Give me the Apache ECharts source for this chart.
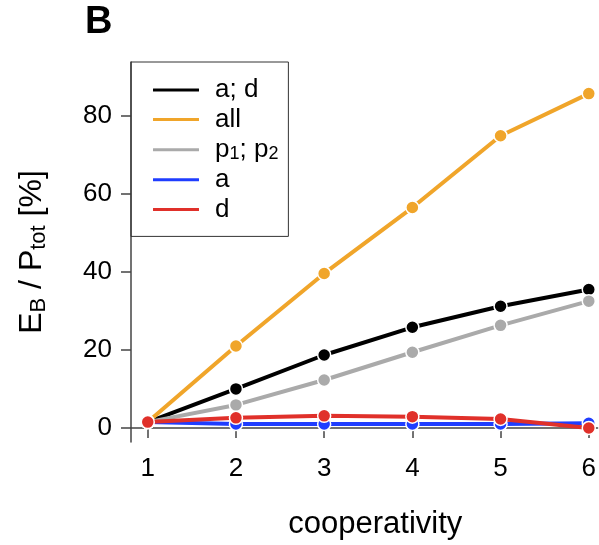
<!DOCTYPE html>
<html>
<head>
<meta charset="utf-8">
<script src="https://cdn.jsdelivr.net/npm/echarts@6/dist/echarts.min.js"></script>
<style>
  html, body { margin: 0; padding: 0; background: #fff; }
  #chart { width: 599px; height: 545px; }
</style>
</head>
<body>
<div id="chart"></div>
<script>
// cooperativity on x, E_B / P_tot in percent on y
const cooperativity = [1, 2, 3, 4, 5, 6];
const yTicks = [0, 20, 40, 60, 80];

const seriesNames = ["a; d", "all", "p1; p2", "a", "d"];
const seriesColors = ["#000000", "#f0a52a", "#aaaaaa", "#1f3dff", "#e0302a"];

const valsAD  = [1.5, 10.0, 18.7, 25.8, 31.2, 35.5];
const valsAll = [1.5, 21.0, 39.6, 56.5, 74.9, 85.7];
const valsP   = [1.5, 5.9, 12.3, 19.4, 26.3, 32.5];
const valsA   = [1.5, 1.0, 1.0, 1.0, 1.0, 1.2];
const valsD   = [1.5, 2.6, 3.1, 2.9, 2.3, 0.0];
const allVals = [valsAD, valsAll, valsP, valsA, valsD];

const font = "Liberation Sans, Arial, Helvetica, sans-serif";
const axisColor = "#444";

const chart = echarts.init(document.getElementById("chart"), null, { renderer: "canvas" });

const series = seriesNames.map((name, i) => ({
    name,
    type: "line",
    data: cooperativity.map((x, j) => [x, allVals[i][j]]),
    symbol: "circle",
    symbolSize: 13,
    lineStyle: { color: seriesColors[i], width: 4 },
    itemStyle: { color: seriesColors[i], borderColor: "#fff", borderWidth: 1.5 },
    emphasis: { disabled: true },
    z: 2 + i
}));

chart.setOption({
    animation: false,
    backgroundColor: "#fff",
    textStyle: { fontFamily: font },
    graphic: [{
        type: "text", left: 85, top: 4,
        style: { text: "B", fontSize: 38, fontWeight: "bold", fill: "#000", fontFamily: font }
    }],
    grid: { left: 131, top: 62, right: 0, bottom: 545 - 443, containLabel: false },
    legend: {
        left: 131, top: 62,
        orient: "vertical",
        borderColor: "#333", borderWidth: 1,
        padding: [15, 10, 14, 20],
        itemGap: 3.6,
        itemWidth: 48, itemHeight: 5,
        icon: "roundRect",
        data: seriesNames.map((n, i) => ({ name: n, itemStyle: { color: seriesColors[i] } })),
        formatter: (n) => n === "p1; p2" ? "{n|p}{s|1}{n|; p}{s|2}" : "{n|" + n + "}",
        textStyle: {
            fontSize: 26, lineHeight: 26, color: "#000", padding: [0, 0, 0, 10],
            rich: {
                n: { fontSize: 26, lineHeight: 26, fontFamily: font, color: "#000" },
                s: { fontSize: 18, lineHeight: 26, fontFamily: font, color: "#000", padding: [9, 0, 0, 0] }
            }
        }
    },
    xAxis: {
        type: "value",
        min: 0.81, max: 6.1,
        name: "cooperativity",
        nameLocation: "middle",
        nameGap: 67,
        nameTextStyle: { fontSize: 31, color: "#000", fontFamily: font, padding: [0, 0, 0, 22] },
        axisLine: { show: true, lineStyle: { color: axisColor, width: 1.5 } },
        axisTick: { show: true, customValues: cooperativity, length: 10, lineStyle: { color: axisColor, width: 1.5 } },
        axisLabel: { customValues: cooperativity, fontSize: 26, color: "#000", margin: 14 },
        splitLine: { show: false }
    },
    yAxis: {
        type: "value",
        min: -3.6, max: 93.8,
        name: "{n|E}{s|B}{n| / P}{s|tot}{n| [%]}",
        nameLocation: "middle",
        nameGap: 81,
        nameRotate: 90,
        nameTextStyle: {
            fontSize: 32, color: "#000",
            rich: {
                n: { fontSize: 32, fontFamily: font, color: "#000" },
                s: { fontSize: 22, fontFamily: font, color: "#000", padding: [13, 0, 0, 0] }
            }
        },
        axisLine: { show: true, lineStyle: { color: axisColor, width: 1.5 } },
        axisTick: { show: true, customValues: yTicks, length: 10, lineStyle: { color: axisColor, width: 1.5 } },
        axisLabel: { customValues: yTicks, fontSize: 26, color: "#000", margin: 19 },
        splitLine: { show: false }
    },
    series
});
</script>
</body>
</html>
